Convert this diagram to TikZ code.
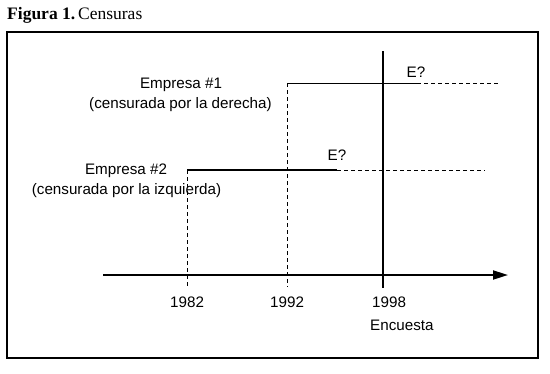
\documentclass[tikz,border=0pt]{standalone}
\usepackage{fontspec}
\setmainfont{Liberation Serif}
\newfontfamily\labfont{Liberation Sans}
\usetikzlibrary{arrows.meta}

\begin{document}
\begin{tikzpicture}[x=1pt, y=-1pt,
  lab/.style={font=\labfont\fontsize{15.2}{18}\selectfont, inner sep=0pt, anchor=base},
  yr/.style={lab, anchor=base west},
  cut/.style={line width=0.9pt, dash pattern=on 4pt off 3pt},
  thin/.style={line width=1pt},
  heavy/.style={line width=1.9pt}]
\useasboundingbox (0,0) rectangle (550,373);

% Title and frame
\node[anchor=base west, inner sep=0pt, font=\fontsize{17.5}{20}\selectfont] (title) at (7,19) {\textbf{Figura 1.}\,Censuras};
\draw[line width=1.5pt] (7,32) rectangle (538,358);

% Time axis
\coordinate (ax0) at (103,275);
\coordinate (ax1) at (508,275);
\draw[heavy, -{Triangle[length=15pt,width=9pt]}] (ax0) -- (ax1);

% Years
\node[yr] (y1982) at (170,307) {1982};
\node[yr] (y1992) at (270,307) {1992};
\node[yr] (y1998) at (372,307) {1998};
\node[yr] (enc) at (370,330) {Encuesta};

% Survey line
\coordinate (sv0) at (383,51);
\coordinate (sv1) at (383,288);
\draw[heavy] (sv0) -- (sv1);

% Empresa #1
\coordinate (e1a) at (287,83);
\coordinate (e1b) at (417,83);
\coordinate (e1c) at (498,83);
\coordinate (d1992) at (287,287);
\draw[thin] (e1a) -- (e1b);
\draw[cut] (e1b) -- (e1c);
\draw[cut] (e1a) -- (d1992);
\node[lab] (e1q) at (416,77) {E?};
\node[lab] (emp1) at (181,88) {Empresa \#1};
\node[lab] (cen1) at (180.5,108) {(censurada por la derecha)};

% Empresa #2
\coordinate (e2a) at (187,170);
\coordinate (e2b) at (337,170);
\coordinate (e2c) at (485,170);
\coordinate (d1982) at (187,287);
\draw[heavy] (e2a) -- (e2b);
\draw[cut] (e2b) -- (e2c);
\draw[cut] (e2a) -- (d1982);
\node[lab] (e2q) at (337,160) {E?};
\node[lab] (emp2) at (126,174) {Empresa \#2};
\node[lab] (cen2) at (126.5,194) {(censurada por la izquierda)};

\end{tikzpicture}
\end{document}
